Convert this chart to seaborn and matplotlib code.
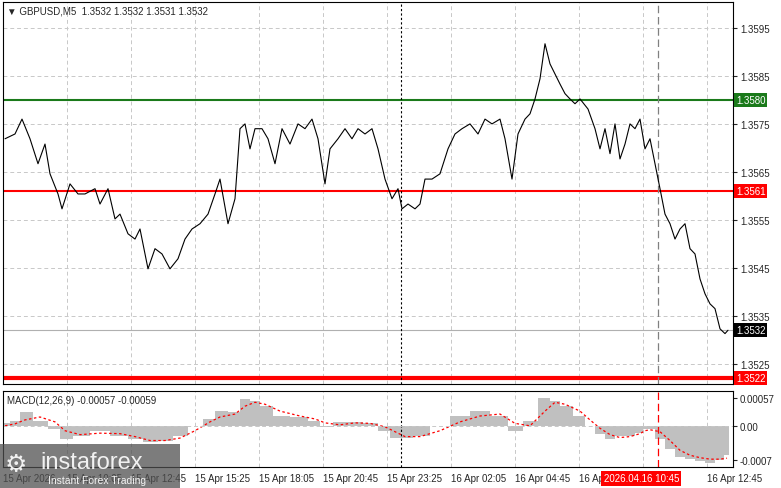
import matplotlib
matplotlib.use("Agg")
import matplotlib.pyplot as plt
import seaborn as sns
import pandas as pd

sns.set_style("white")
plt.rcParams['font.family'] = ['Liberation Sans', 'DejaVu Sans']

# price path: pixel-column positions of samples and close prices
price_px = [5,15,22,30,38,45,50,58,62,70,78,85,95,100,108,115,120,128,135,140,148,155,162,170,178,185,192,200,208,215,220,228,235,240,245,250,255,262,268,275,282,290,298,305,312,318,325,330,338,345,352,358,365,372,378,385,392,398,402,408,415,420,425,432,440,448,455,462,470,478,485,492,500,505,512,518,525,530,535,540,545,550,555,560,565,570,575,580,588,595,600,605,610,615,620,625,630,635,640,645,650,655,660,665,670,675,680,685,690,695,700,705,710,715,720,725,728]
prices = [1.35719,1.35729,1.35760,1.35719,1.35667,1.35708,1.35646,1.35604,1.35573,1.35625,1.35604,1.35604,1.35615,1.35583,1.35615,1.35552,1.35562,1.35521,1.35510,1.35531,1.35448,1.35490,1.35479,1.35448,1.35469,1.35510,1.35531,1.35542,1.35562,1.35604,1.35635,1.35542,1.35594,1.35740,1.35750,1.35698,1.35740,1.35740,1.35719,1.35667,1.35740,1.35708,1.35750,1.35740,1.35760,1.35719,1.35625,1.35698,1.35719,1.35740,1.35719,1.35740,1.35729,1.35740,1.35698,1.35635,1.35594,1.35615,1.35573,1.35583,1.35573,1.35583,1.35635,1.35635,1.35646,1.35698,1.35729,1.35740,1.35750,1.35729,1.35760,1.35750,1.35760,1.35719,1.35635,1.35729,1.35760,1.35771,1.35802,1.35844,1.35917,1.35875,1.35854,1.35833,1.35813,1.35802,1.35792,1.35802,1.35781,1.35740,1.35698,1.35740,1.35688,1.35750,1.35677,1.35708,1.35750,1.35740,1.35760,1.35698,1.35719,1.35667,1.35615,1.35562,1.35542,1.35510,1.35531,1.35542,1.35490,1.35479,1.35427,1.35396,1.35375,1.35365,1.35323,1.35313,1.35320]

macd_px = [5,15,25,40,55,65,80,100,120,135,150,165,180,195,210,220,235,245,255,265,280,300,315,325,340,355,370,385,395,405,420,440,460,480,500,515,530,545,555,565,580,590,600,610,620,630,640,645,650,660,670,680,690,700,710,720,727]
macd_hist = [0.00006,0.00010,0.00029,0.00010,-0.00006,-0.00027,-0.00020,-0.00010,-0.00020,-0.00027,-0.00034,-0.00030,-0.00020,0.00000,0.00014,0.00030,0.00028,0.00055,0.00050,0.00040,0.00020,0.00017,0.00010,-0.00003,0.00007,0.00007,0.00005,-0.00010,-0.00025,-0.00025,-0.00020,0.00000,0.00020,0.00030,0.00020,-0.00010,0.00010,0.00057,0.00050,0.00040,0.00020,0.00000,-0.00017,-0.00027,-0.00020,-0.00020,-0.00014,-0.00007,-0.00007,-0.00027,-0.00048,-0.00064,-0.00068,-0.00071,-0.00075,-0.00070,-0.00060]
macd_signal = [0.00000,0.00004,0.00012,0.00018,0.00008,-0.00010,-0.00018,-0.00015,-0.00016,-0.00022,-0.00030,-0.00030,-0.00025,-0.00010,0.00008,0.00018,0.00024,0.00040,0.00048,0.00044,0.00030,0.00020,0.00014,0.00006,0.00002,0.00006,0.00005,-0.00002,-0.00012,-0.00022,-0.00022,-0.00010,0.00008,0.00020,0.00024,0.00005,0.00000,0.00030,0.00048,0.00044,0.00030,0.00012,-0.00005,-0.00018,-0.00024,-0.00022,-0.00016,-0.00010,-0.00008,-0.00012,-0.00030,-0.00050,-0.00060,-0.00065,-0.00068,-0.00068,-0.00066]

level_green = 1.3580
level_red = 1.3561
level_red2 = 1.3522
last_price = 1.3532
price_ticks = [1.3525,1.3535,1.3545,1.3555,1.3565,1.3575,1.3585,1.3595]
time_labels = ["15 Apr 2026","15 Apr 10:05","15 Apr 12:45","15 Apr 15:25","15 Apr 18:05","15 Apr 20:45","15 Apr 23:25","16 Apr 02:05","16 Apr 04:45","16 Apr 07:25"]
time_bars = [0,32,64,96,128,160,192,224,256,288]

def to_bar(p):
    return (p - 3) / 2.0

df = pd.DataFrame({"bar": [to_bar(p) for p in price_px], "price": prices})
mb = [to_bar(p) for p in macd_px]
# bar edges span midpoints between samples so histogram is continuous
edges = [mb[0] - 2] + [(mb[i] + mb[i+1]) / 2 for i in range(len(mb) - 1)] + [mb[-1] + 1]
dm = pd.DataFrame({"bar": mb, "hist": macd_hist, "sig": macd_signal})

fig = plt.figure(figsize=(7.81, 4.89), dpi=100)
W, H = 781, 489
ax = fig.add_axes([3/W, 1-385/H, 730/W, 382/H])
ax2 = fig.add_axes([3/W, 1-468/H, 730/W, 76/H])
xmax = to_bar(733)

for a in (ax, ax2):
    a.set_xlim(0, xmax)
    for s in a.spines.values():
        s.set_color("black"); s.set_linewidth(0.8)
    a.set_xticks(time_bars + [320, 352])
    a.grid(True, axis="x", color="#c8c8c8", ls=(0, (4, 3)), lw=0.7)
    a.tick_params(axis="x", length=0, labelbottom=False)

ax.set_ylim(1.35208, 1.36004)
ax.set_yticks(price_ticks)
ax.grid(True, axis="y", color="#c8c8c8", ls=(0, (4, 3)), lw=0.7)
ax.yaxis.tick_right()
ax.tick_params(axis="y", length=3, labelsize=7, pad=2)
ax.set_yticklabels([f"{v:.4f}" for v in price_ticks])

ax.axhline(last_price, color="#b0b0b0", lw=0.8)
ax.axhline(level_green, color="#1a7a1a", lw=1.5)
ax.axhline(level_red, color="red", lw=1.5)
ax.axhline(level_red2, color="red", lw=3)
ax.axvline(to_bar(401), color="black", ls=(0, (2, 2)), lw=0.8)
ax.axvline(to_bar(658), color="#808080", ls=(0, (6, 3)), lw=0.9)
ax2.axvline(to_bar(658), color="red", ls=(0, (6, 3)), lw=0.9)
ax2.axvline(to_bar(401), color="black", ls=(0, (2, 2)), lw=0.8)

sns.lineplot(data=df, x="bar", y="price", ax=ax, color="black", lw=0.8)
ax.set_xlabel(""); ax.set_ylabel("")

for val, fc in [(level_green, "#1a7a1a"), (level_red, "red"), (level_red2, "red"), (last_price, "black")]:
    ax.text(1.004, val, f"{val:.4f}", transform=ax.get_yaxis_transform(), fontsize=7,
            color="white", va="center", ha="left",
            bbox=dict(boxstyle="square,pad=0.2", fc=fc, ec="none"))

ax.text(0.005, 0.99, "\u25bc GBPUSD,M5  1.3532 1.3532 1.3531 1.3532", transform=ax.transAxes,
        fontsize=7, va="top")

ax2.bar(edges[:-1], dm["hist"], width=[edges[i+1] - edges[i] for i in range(len(mb))],
        color="#c0c0c0", align="edge", linewidth=0)
sns.lineplot(data=dm, x="bar", y="sig", ax=ax2, color="red", lw=0.9, ls=(0, (2, 2)))
ax2.set_xlabel(""); ax2.set_ylabel("")
ax2.set_ylim(-0.00084, 0.00071)
ax2.axhline(0, color="#c8c8c8", ls=(0, (4, 3)), lw=0.7)
ax2.yaxis.tick_right()
ax2.set_yticks([-0.0007, 0.0, 0.00057])
ax2.set_yticklabels(["-0.0007", "0.00", "0.00057"])
ax2.tick_params(axis="y", length=3, labelsize=7, pad=2)
ax2.text(0.005, 0.95, "MACD(12,26,9) -0.00057 -0.00059", transform=ax2.transAxes, fontsize=7, va="top")

for b, lab in zip(time_bars, time_labels):
    if b == 288:
        lab = "16 Apr 07"
    ax2.text(b, -0.15, lab, transform=ax2.get_xaxis_transform(), fontsize=7, va="center", ha="left")
ax2.text(338, -0.15, "2026.04.16 10:45", transform=ax2.get_xaxis_transform(), fontsize=7,
         va="center", ha="right", color="white", bbox=dict(boxstyle="square,pad=0.25", fc="red", ec="none"))
ax2.text(352, -0.15, "16 Apr 12:45", transform=ax2.get_xaxis_transform(), fontsize=7, va="center", ha="left")

# watermark
fig.patches.append(plt.Rectangle((0, 0), 180/W, 44/H, transform=fig.transFigure,
                                 fc="#505050", alpha=0.75, ec="none"))
fig.text(40/W, 26/H, "instaforex", fontsize=17, color="white", alpha=0.9, va="center")
fig.text(48/W, 8/H, "Instant Forex Trading", fontsize=7.5, color="white", alpha=0.9, va="center")
fig.text(16/W, 24/H, "\u2699", fontsize=18, color="white", alpha=0.9, va="center", ha="center",
         family=["DejaVu Sans"])

fig.savefig("out.png", dpi=100)
